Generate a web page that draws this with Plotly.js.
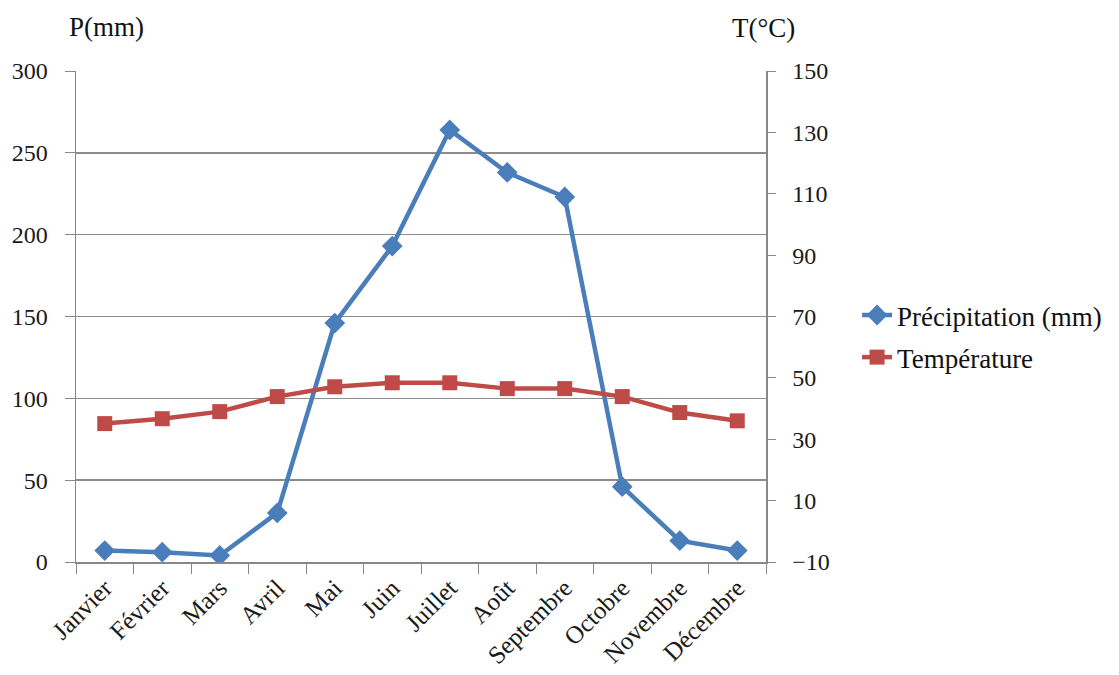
<!DOCTYPE html>
<html><head><meta charset="utf-8">
<script src="https://cdn.plot.ly/plotly-3.0.1.min.js"></script>
<style>body{margin:0;background:#fff}#c{width:1119px;height:675px}</style>
</head><body><div id="c"></div>
<script>
const months = ["Janvier","Février","Mars","Avril","Mai","Juin","Juillet","Août","Septembre","Octobre","Novembre","Décembre"];
const precipitation = [7, 6, 4, 30, 146, 193, 264, 238, 223, 46, 13, 7];
const temperature = [35.1, 36.7, 39, 43.9, 47.1, 48.4, 48.4, 46.5, 46.5, 43.9, 38.7, 36.0];
const leftTicks = [0, 50, 100, 150, 200, 250, 300];
const rightTicks = [-10, 10, 30, 50, 70, 90, 110, 130, 150];

const fam = "'Liberation Serif', 'Times New Roman', Times, serif";
const tickFont = {family: fam, size: 24, color: "#1a1a1a"};
const traces = [
  {x: months, y: precipitation, name: "Précipitation (mm)", legendgroup: "p", type: "scatter", mode: "lines+markers",
   line: {color: "#4a7ebb", width: 4.5}, marker: {symbol: "diamond", size: 16, color: "#4a7ebb"}, yaxis: "y"},
  {x: months, y: temperature, name: "Température", legendgroup: "t", type: "scatter", mode: "lines+markers",
   line: {color: "#be4b48", width: 4.5}, marker: {symbol: "square", size: 15, color: "#be4b48"}, yaxis: "y2"}
];
const layout = {
  width: 1119, height: 675,
  margin: {l: 76, r: 353, t: 71, b: 113},
  paper_bgcolor: "#fff", plot_bgcolor: "#fff",
  font: tickFont,
  showlegend: true,
  legend: {x: 1.132, y: 0.552, xanchor: "left", yanchor: "top", font: {family: fam, size: 27, color: "#111"},
           bgcolor: "rgba(0,0,0,0)", tracegroupgap: 4},
  xaxis: {type: "category", tickangle: -45, showgrid: false, showline: true, linecolor: "#888", linewidth: 1.5,
          ticks: "outside", tickson: "boundaries", ticklen: 10, tickcolor: "#888",
          tickfont: {family: fam, size: 25, color: "#1a1a1a"},
          range: [-0.5, 11.5], zeroline: false},
  yaxis: {range: [0, 300], tickvals: leftTicks, showgrid: true, gridcolor: "#8c8c8c", gridwidth: 1.5,
          showline: true, linecolor: "#888", linewidth: 1.5, ticks: "outside", ticklen: 10, tickcolor: "#888",
          tickfont: tickFont, zeroline: false, ticklabelstandoff: 12},
  yaxis2: {range: [-10, 150], tickvals: rightTicks, overlaying: "y", side: "right", showgrid: false,
           showline: true, linecolor: "#888", linewidth: 1.5, ticks: "outside", ticklen: 8, tickcolor: "#888",
           tickfont: tickFont, zeroline: false, ticklabelstandoff: 12},
  annotations: [
    {text: "P(mm)", xref: "paper", yref: "paper", x: -0.013, y: 1.09, xanchor: "left", yanchor: "middle", showarrow: false, font: {family: fam, size: 27, color: "#111"}},
    {text: "T(°C)", xref: "paper", yref: "paper", x: 0.948, y: 1.088, xanchor: "left", yanchor: "middle", showarrow: false, font: {family: fam, size: 27, color: "#111"}}
  ]
};
Plotly.newPlot("c", traces, layout, {displayModeBar: false, staticPlot: true});
</script></body></html>
